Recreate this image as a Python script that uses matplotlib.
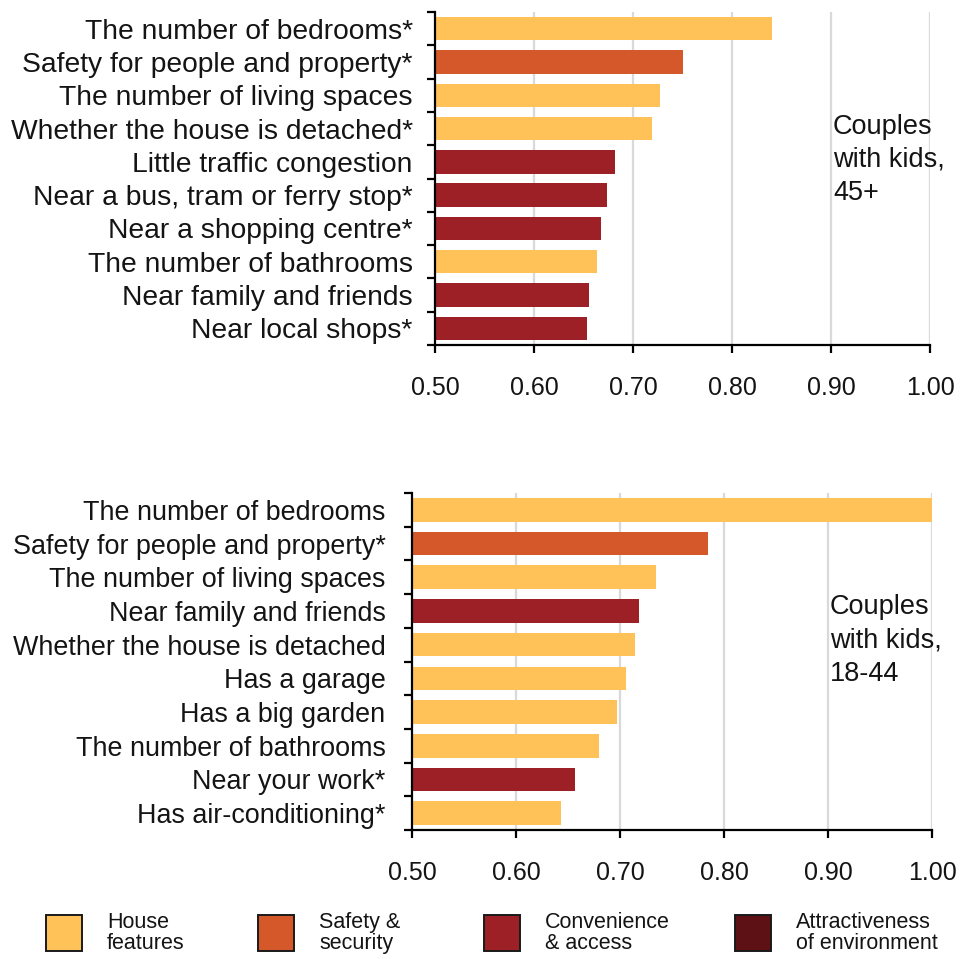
import matplotlib
matplotlib.use("Agg")
import matplotlib.pyplot as plt
from matplotlib.patches import Rectangle

plt.rcParams['font.family'] = ['Liberation Sans', 'DejaVu Sans']

# Category colours
colors = {
    "house": "#FFC259",
    "safety": "#D4582A",
    "convenience": "#9E2027",
    "environment": "#5E1114",
}

# Couples with kids, 45+
labels_older = [
    "The number of bedrooms*",
    "Safety for people and property*",
    "The number of living spaces",
    "Whether the house is detached*",
    "Little traffic congestion",
    "Near a bus, tram or ferry stop*",
    "Near a shopping centre*",
    "The number of bathrooms",
    "Near family and friends",
    "Near local shops*",
]
values_older = [0.840, 0.751, 0.727, 0.719, 0.682, 0.674, 0.668, 0.664, 0.656, 0.654]
groups_older = ["house", "safety", "house", "house", "convenience",
                "convenience", "convenience", "house", "convenience", "convenience"]

# Couples with kids, 18-44
labels_younger = [
    "The number of bedrooms",
    "Safety for people and property*",
    "The number of living spaces",
    "Near family and friends",
    "Whether the house is detached",
    "Has a garage",
    "Has a big garden",
    "The number of bathrooms",
    "Near your work*",
    "Has air-conditioning*",
]
values_younger = [1.000, 0.785, 0.735, 0.718, 0.714, 0.706, 0.697, 0.680, 0.657, 0.643]
groups_younger = ["house", "safety", "house", "convenience", "house",
                  "house", "house", "house", "convenience", "house"]

xticks = [0.50, 0.60, 0.70, 0.80, 0.90, 1.00]
xtick_labels = ["0.50", "0.60", "0.70", "0.80", "0.90", "1.00"]

legend_keys = ["house", "safety", "convenience", "environment"]
legend_texts = ["House\nfeatures", "Safety &\nsecurity", "Convenience\n& access",
                "Attractiveness\nof environment"]

W, H = 965, 959
fig = plt.figure(figsize=(W / 100, H / 100), dpi=100)
TEXT = "#141414"


def panel(rect, labels, values, groups, note, note_y, label_pad, label_size):
    ax = fig.add_axes(rect)
    n = len(labels)
    pos = list(range(n))
    lefts = [0.5] * n
    widths = [v - 0.5 for v in values]
    ax.barh(pos, widths, left=lefts, height=0.7,
            color=[colors[g] for g in groups], edgecolor="none", zorder=3)
    ax.set_xlim(0.5, 1.0)
    ax.set_ylim(n - 0.5, -0.5)

    # light vertical grid
    for x in xticks[1:]:
        ax.axvline(x, color="#d9d9d9", lw=1.6, zorder=1)

    for s in ("top", "right"):
        ax.spines[s].set_visible(False)
    for s in ("left", "bottom"):
        ax.spines[s].set_linewidth(1.6)
        ax.spines[s].set_color("black")
        ax.spines[s].set_zorder(4)

    ax.set_xticks(xticks)
    ax.set_xticklabels(xtick_labels)
    ax.tick_params(axis="x", direction="out", length=6, width=1.6,
                   pad=16, labelsize=18, labelcolor=TEXT)

    ax.set_yticks([i - 0.5 for i in range(n + 1)])
    ax.set_yticklabels([])
    ax.set_yticks(pos, minor=True)
    ax.set_yticklabels(labels, minor=True)
    ax.tick_params(axis="y", which="major", direction="out", length=6, width=1.6)
    ax.tick_params(axis="y", which="minor", length=0, pad=label_pad,
                   labelsize=label_size, labelcolor=TEXT)

    ax.text(0.9 + 0.002, note_y, note, transform=ax.get_xaxis_transform(),
            ha="left", va="top", fontsize=19.5, color=TEXT, linespacing=1.37)
    return ax


panel([435 / W, 1 - 345 / H, (930 - 435) / W, (345 - 12) / H],
      labels_older, values_older, groups_older,
      "Couples\nwith kids,\n45+", 0.695, 16, 20.3)

panel([412 / W, 1 - 830 / H, (932 - 412) / W, (830 - 493) / H],
      labels_younger, values_younger, groups_younger,
      "Couples\nwith kids,\n18-44", 0.7, 19, 19.4)

# legend row
patch_x = [46, 258, 484, 735]
for px, key, txt in zip(patch_x, legend_keys, legend_texts):
    fig.patches.append(Rectangle((px / W, 1 - 951 / H), 36 / W, 36 / H,
                                 transform=fig.transFigure,
                                 facecolor=colors[key], edgecolor="#1a1a1a", lw=1.4))
    fig.text((px + 61) / W, 1 - 933 / H, txt, ha="left", va="center",
             fontsize=15.5, color=TEXT, linespacing=1.0)

fig.savefig("out.png", dpi=100)
